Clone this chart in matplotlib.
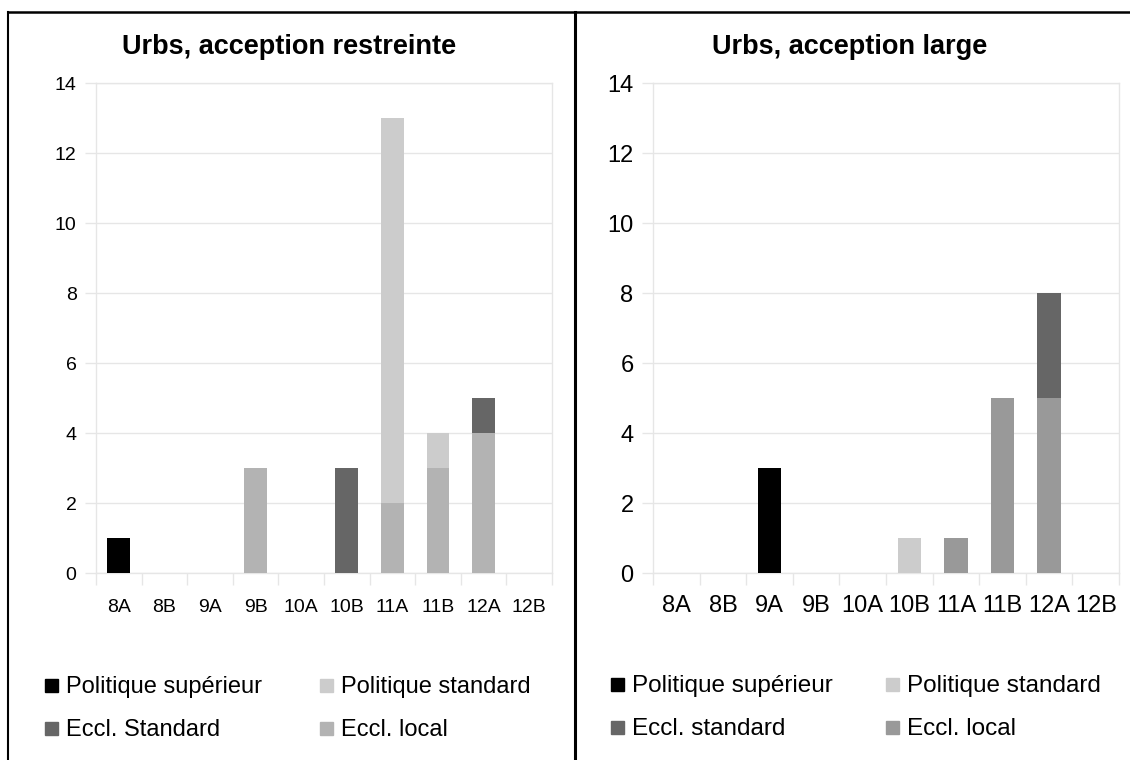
import matplotlib
matplotlib.use("Agg")
import matplotlib.pyplot as plt
from matplotlib.patches import Rectangle
from matplotlib.lines import Line2D
import numpy as np

plt.rcParams['font.family'] = ['Liberation Sans', 'DejaVu Sans']

categories = ["8A", "8B", "9A", "9B", "10A", "10B", "11A", "11B", "12A", "12B"]

# Left chart: Urbs, acception restreinte
left_title = "Urbs, acception restreinte"
left_pol_sup = [1, 0, 0, 0, 0, 0, 0, 0, 0, 0]
left_eccl_local = [0, 0, 0, 3, 0, 0, 2, 3, 4, 0]
left_pol_std = [0, 0, 0, 0, 0, 0, 11, 1, 0, 0]
left_eccl_std = [0, 0, 0, 0, 0, 3, 0, 0, 1, 0]
left_labels = ["Politique supérieur", "Politique standard", "Eccl. Standard", "Eccl. local"]

# Right chart: Urbs, acception large
right_title = "Urbs, acception large"
right_pol_sup = [0, 0, 3, 0, 0, 0, 0, 0, 0, 0]
right_eccl_local = [0, 0, 0, 0, 0, 0, 1, 5, 5, 0]
right_pol_std = [0, 0, 0, 0, 0, 1, 0, 0, 0, 0]
right_eccl_std = [0, 0, 0, 0, 0, 0, 0, 0, 3, 0]
right_labels = ["Politique supérieur", "Politique standard", "Eccl. standard", "Eccl. local"]

yticks = [0, 2, 4, 6, 8, 10, 12, 14]

W, H = 1130, 760
fig = plt.figure(figsize=(W / 100, H / 100), dpi=100)

def fx(px):
    return px / W

def fy(py):
    return 1 - py / H

GRID = "#e6e6e6"

def make_panel(rect, title, title_x, pol_sup, eccl_local, pol_std, eccl_std,
               labels, c_local, tick_fs, xlab_pad, leg_fs, leg_x, leg_rows):
    ax = fig.add_axes(rect)
    x = np.arange(len(categories)) + 0.5
    c_sup, c_std, c_estd = "#000000", "#cccccc", "#666666"
    ps = np.array(pol_sup, float)
    el = np.array(eccl_local, float)
    pst = np.array(pol_std, float)
    es = np.array(eccl_std, float)
    w = 0.5
    ax.bar(x, ps, w, color=c_sup, zorder=3)
    ax.bar(x, el, w, color=c_local, zorder=3)
    ax.bar(x, pst, w, bottom=el, color=c_std, zorder=3)
    ax.bar(x, es, w, bottom=el + pst, color=c_estd, zorder=3)
    ax.set_xlim(0, len(categories))
    ax.set_ylim(0, 14)
    for s in ax.spines.values():
        s.set_color(GRID)
        s.set_linewidth(1)
    ax.set_xticks(np.arange(len(categories) + 1))
    ax.set_xticklabels([])
    ax.set_xticks(x, minor=True)
    ax.set_xticklabels(categories, minor=True, fontsize=tick_fs)
    ax.tick_params(axis='x', which='major', length=8.5, width=1, color=GRID)
    ax.tick_params(axis='x', which='minor', length=0, pad=xlab_pad)
    ax.set_yticks(yticks)
    ax.set_yticklabels([str(v) for v in yticks], fontsize=tick_fs)
    ax.tick_params(axis='y', length=8, width=1, color=GRID, pad=6)
    ax.yaxis.grid(True, color=GRID, linewidth=1, zorder=0)
    ax.xaxis.grid(False)
    ax.set_axisbelow(True)
    fig.text(fx(title_x), fy(47), title, ha='center', va='center',
             fontsize=19.5, fontweight='bold')
    colors = [c_sup, c_std, c_estd, c_local]
    for i, (lab, col) in enumerate(zip(labels, colors)):
        cx = leg_x[i % 2]
        cy = leg_rows[i // 2]
        fig.patches.append(Rectangle((fx(cx), fy(cy + 5)), 13 / W, 13 / H,
                                     transform=fig.transFigure, color=col,
                                     figure=fig))
        fig.text(fx(cx + 21), fy(cy), lab, ha='left', va='center',
                 fontsize=leg_fs)
    return ax

make_panel([fx(96), fy(573), fx(552) - fx(96), fy(83) - fy(573)],
           left_title, 289, left_pol_sup, left_eccl_local, left_pol_std,
           left_eccl_std, left_labels, "#b3b3b3", 14, 19, 17,
           (45, 320), (687, 730))
make_panel([fx(653), fy(573), fx(1119) - fx(653), fy(83) - fy(573)],
           right_title, 850, right_pol_sup, right_eccl_local, right_pol_std,
           right_eccl_std, right_labels, "#999999", 17, 16, 17.5,
           (611, 886), (686, 729))

# panel borders
fig.add_artist(Line2D([fx(8), fx(1130)], [fy(12), fy(12)], color='black',
                      linewidth=1.8, transform=fig.transFigure))
fig.add_artist(Line2D([fx(8), fx(8)], [fy(12), fy(760)], color='black',
                      linewidth=1.5, transform=fig.transFigure))
fig.add_artist(Line2D([fx(575), fx(575)], [fy(12), fy(760)], color='black',
                      linewidth=2.2, transform=fig.transFigure))

fig.savefig("out.png", dpi=100)
